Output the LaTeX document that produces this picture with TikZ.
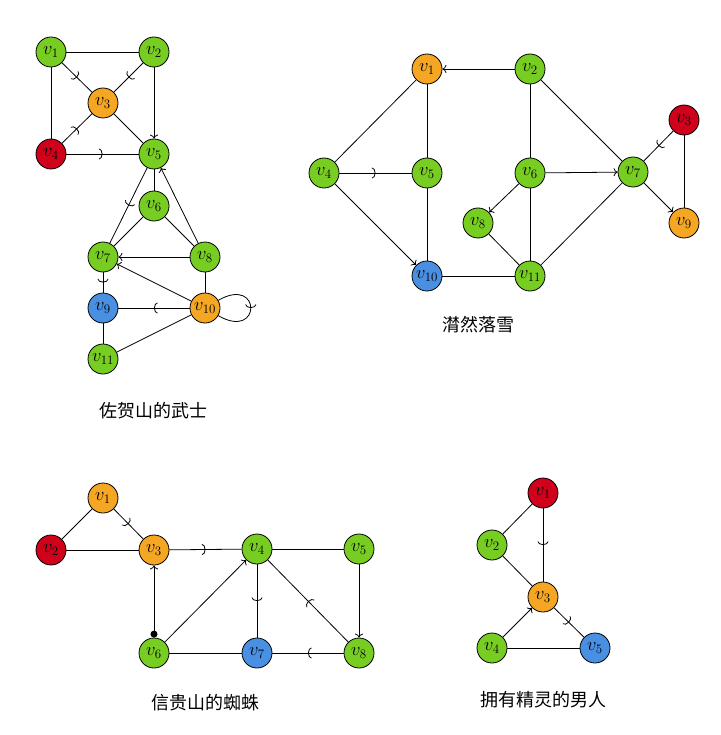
\RequirePackage{fix-cm}
\documentclass[tikz,border=0pt]{standalone}
\usepackage{fontspec}
\newfontfamily\cjk{Noto Sans CJK SC}
\usetikzlibrary{arrows.meta,decorations.markings}
\definecolor{cg}{RGB}{120,205,35}
\definecolor{co}{RGB}{245,166,35}
\definecolor{cr}{RGB}{208,2,27}
\definecolor{cb}{RGB}{74,144,226}
\newcommand{\vl}[1]{\fontsize{18.5}{18.5}\selectfont$v_{#1}$}
\begin{document}
\begin{tikzpicture}[x=1pt,y=-1pt,
  vx/.style={circle,draw=black,line width=0.8pt,minimum size=30pt,inner sep=0pt},
  g/.style={vx,fill=cg}, o/.style={vx,fill=co}, r/.style={vx,fill=cr}, b/.style={vx,fill=cb},
  ed/.style={line width=0.8pt},
  ar/.style={ed,-{To[length=4pt,width=8pt]}},
  mk/.style={ed,postaction={decorate},decoration={markings,mark=at position 0.5 with {\arrow[line width=0.8pt]{Arc Barb[length=3.5pt,width=11pt]}}}},
  captxt/.style={font=\cjk\fontsize{18}{20}\selectfont}]
\useasboundingbox (0,0) rectangle (720,735);
% panel 1
\node[g] (a1) at (51,52) {\vl{1}};
\node[g] (a2) at (154,52) {\vl{2}};
\node[o] (a3) at (103,103) {\vl{3}};
\node[r] (a4) at (51,154) {\vl{4}};
\node[g] (a5) at (154,154) {\vl{5}};
\node[g] (a6) at (154,206) {\vl{6}};
\node[g] (a7) at (103,257) {\vl{7}};
\node[g] (a8) at (205,257) {\vl{8}};
\node[b] (a9) at (103,308) {\vl{9}};
\node[o] (a10) at (205,308) {\vl{10}};
\node[g] (a11) at (103,359) {\vl{11}};
\node[captxt] (t1) at (153,411) {佐贺山的武士};
\draw[ed] (a1) -- (a2);
\draw[ed] (a1) -- (a4);
\draw[mk] (a1) -- (a3);
\draw[mk] (a2) -- (a3);
\draw[mk] (a4) -- (a3);
\draw[ed] (a3) -- (a5);
\draw[mk] (a4) -- (a5);
\draw[ar] (a2) -- (a5);
\draw[ed] (a5) -- (a6);
\draw[mk] (a5) -- (a7);
\draw[ar] (a8) -- (a5);
\draw[ed] (a6) -- (a7);
\draw[ed] (a6) -- (a8);
\draw[ar] (a8) -- (a7);
\draw[ar] (a10) -- (a7);
\draw[mk] (a7) -- (a9);
\draw[ed] (a8) -- (a10);
\draw[mk] (a10) -- (a9);
\draw[ed] (a9) -- (a11);
\draw[ed] (a10) -- (a11);
\draw[mk] (a10.30) .. controls +(-30:50) and +(30:50) .. (a10.-30);
% panel 2
\node[o] (b1) at (427,69) {\vl{1}};
\node[g] (b2) at (530,69) {\vl{2}};
\node[r] (b3) at (684,120) {\vl{3}};
\node[g] (b4) at (324,173) {\vl{4}};
\node[g] (b5) at (427,173) {\vl{5}};
\node[g] (b6) at (530,173) {\vl{6}};
\node[g] (b7) at (633,172) {\vl{7}};
\node[g] (b8) at (478,223) {\vl{8}};
\node[o] (b9) at (684,223) {\vl{9}};
\node[b] (b10) at (427,276) {\vl{10}};
\node[g] (b11) at (530,276) {\vl{11}};
\node[captxt] (t2) at (478,325) {潸然落雪};
\draw[ar] (b2) -- (b1);
\draw[ed] (b1) -- (b4);
\draw[ed] (b1) -- (b5);
\draw[mk] (b4) -- (b5);
\draw[ar] (b4) -- (b10);
\draw[ed] (b5) -- (b10);
\draw[ed] (b10) -- (b11);
\draw[ed] (b2) -- (b6);
\draw[ed] (b2) -- (b7);
\draw[ar] (b6) -- (b7);
\draw[ar] (b6) -- (b8);
\draw[ed] (b6) -- (b11);
\draw[ed] (b8) -- (b11);
\draw[ed] (b11) -- (b7);
\draw[mk] (b3) -- (b7);
\draw[ed] (b3) -- (b9);
\draw[ar] (b7) -- (b9);
% panel 3
\node[o] (c1) at (103,498) {\vl{1}};
\node[r] (c2) at (51,550) {\vl{2}};
\node[o] (c3) at (154,550) {\vl{3}};
\node[g] (c4) at (257,549) {\vl{4}};
\node[g] (c5) at (359,549) {\vl{5}};
\node[g] (c6) at (154,653) {\vl{6}};
\node[b] (c7) at (257,653) {\vl{7}};
\node[g] (c8) at (359,653) {\vl{8}};
\node[captxt] (t3) at (205,703) {信贵山的蜘蛛};
\draw[ed] (c1) -- (c2);
\draw[mk] (c1) -- (c3);
\draw[ed] (c2) -- (c3);
\draw[mk] (c3) -- (c4);
\draw[ed,{Circle[length=7pt]}-{To[length=4pt,width=8pt]}] (c6) -- (c3);
\draw[ar] (c6) -- (c4);
\draw[ed] (c6) -- (c7);
\draw[ed] (c4) -- (c5);
\draw[mk] (c4) -- (c7);
\draw[mk] (c8) -- (c4);
\draw[ar] (c5) -- (c8);
\draw[mk] (c8) -- (c7);
% panel 4
\node[r] (d1) at (543,493) {\vl{1}};
\node[g] (d2) at (492,545) {\vl{2}};
\node[o] (d3) at (543,597) {\vl{3}};
\node[g] (d4) at (492,648) {\vl{4}};
\node[b] (d5) at (595,648) {\vl{5}};
\node[captxt] (t4) at (543,700) {拥有精灵的男人};
\draw[ed] (d1) -- (d2);
\draw[mk] (d1) -- (d3);
\draw[ed] (d2) -- (d3);
\draw[mk] (d3) -- (d5);
\draw[ar] (d4) -- (d3);
\draw[ed] (d4) -- (d5);
\end{tikzpicture}
\end{document}
